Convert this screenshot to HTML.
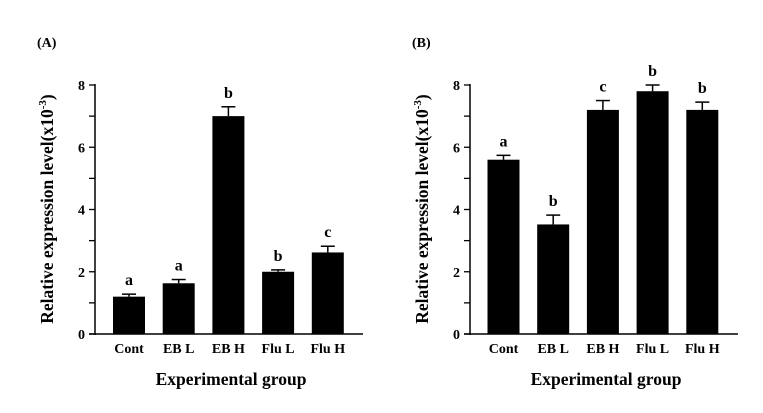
<!DOCTYPE html>
<html><head><meta charset="utf-8"><style>
html,body{margin:0;padding:0;background:#fff;}
svg{display:block;}
svg text{font-family:"Liberation Serif","DejaVu Serif",serif;font-weight:bold;}
</style></head><body>
<svg id="chart" width="763" height="413" viewBox="0 0 763 413" font-family="Liberation Serif, serif" font-weight="bold"></svg>
<script>
const categories = ["Cont","EB L","EB H","Flu L","Flu H"];
const valuesA = [1.2,1.63,7.0,2.0,2.62];
const errorsA = [0.08,0.12,0.3,0.06,0.2];
const lettersA = ["a","a","b","b","c"];
const valuesB = [5.6,3.52,7.2,7.8,7.2];
const errorsB = [0.14,0.3,0.3,0.2,0.25];
const lettersB = ["a","b","c","b","b"];
const tickLabels = [0,2,4,6,8];

const NS="http://www.w3.org/2000/svg";
const svg=document.getElementById('chart');
function mk(tag,attrs,parent,text){const e=document.createElementNS(NS,tag);for(const k in attrs)e.setAttribute(k,attrs[k]);if(text!==undefined)e.textContent=text;(parent||svg).appendChild(e);return e;}

function panel(id,label,ax,x0,axEnd,values,errors,letters){
  const g=mk('g',{});
  
  
  const y0=334,yTop=85;
  const y=v=>y0-(v/8)*(y0-yTop);
  const step=49.7,bw=32;
  const xc=i=>x0+i*step;
  const t=mk('text',{x:ax-58,y:47,'font-size':14},g,label);
  
  
  const yl=mk('line',{x1:ax,y1:yTop-1,x2:ax,y2:y0+1,stroke:'#000','stroke-width':1.5},g);
  
  
  const xl=mk('line',{x1:ax-6,y1:y0,x2:axEnd,y2:y0,stroke:'#000','stroke-width':1.5},g);
  
  
  for(let v=0;v<=8;v++){
    const tk=mk('line',{x1:ax-6,y1:y(v),x2:ax,y2:y(v),stroke:'#000','stroke-width':1.3},g);
    
    
  }
  tickLabels.forEach(v=>{
    const tl=mk('text',{x:ax-10,y:y(v)+5,'font-size':14,'text-anchor':'end'},g,String(v));
    
    
  });
  values.forEach((v,i)=>{
    const cx=xc(i);
    const b=mk('rect',{x:cx-bw/2,y:y(v),width:bw,height:y0-y(v),fill:'#000'},g);
    
    
    const top=y(v+errors[i]);
    const e1=mk('line',{x1:cx,y1:y(v),x2:cx,y2:top,stroke:'#000','stroke-width':1.5},g);
    
    
    const e2=mk('line',{x1:cx-7,y1:top,x2:cx+7,y2:top,stroke:'#000','stroke-width':1.5},g);
    
    
    const lt=mk('text',{x:cx,y:top-9,'font-size':16,'text-anchor':'middle'},g,letters[i]);
    
    
    const cl=mk('text',{x:cx,y:353,'font-size':14,'text-anchor':'middle'},g,categories[i]);
    
    
  });
  const xt=mk('text',{x:(ax+axEnd)/2+2,y:385,'font-size':17.5,'text-anchor':'middle'},g,'Experimental group');
  
  
  const yt=mk('text',{x:0,y:0,'font-size':17.5,'text-anchor':'middle',transform:`translate(${ax-42},${209}) rotate(-90)`},g);
  
  
  mk('tspan',{},yt,'Relative expression level(x10');
  mk('tspan',{'font-size':11,dy:-7},yt,'-3');
  mk('tspan',{dy:7},yt,')');
}
panel('a','(A)',95,129,363,valuesA,errorsA,lettersA);
panel('b','(B)',470,503.5,738,valuesB,errorsB,lettersB);
</script>
</body></html>
